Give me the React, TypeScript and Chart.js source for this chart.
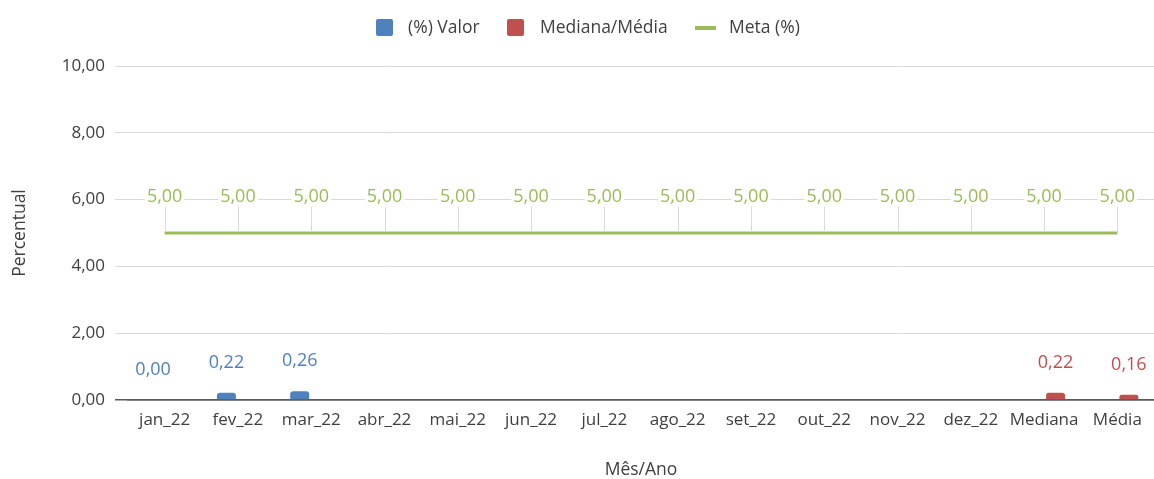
import React, { useEffect, useRef } from "react";
import { Chart, registerables } from "chart.js";

Chart.register(...registerables);

const categories = ["jan_22", "fev_22", "mar_22", "abr_22", "mai_22", "jun_22", "jul_22", "ago_22", "set_22", "out_22", "nov_22", "dez_22", "Mediana", "Média"];
const valorSeries: (number | null)[] = [0, 0.22, 0.26, null, null, null, null, null, null, null, null, null, null, null];
const medianaMediaSeries: (number | null)[] = [null, null, null, null, null, null, null, null, null, null, null, null, 0.22, 0.16];
const metaSeries: number[] = [5, 5, 5, 5, 5, 5, 5, 5, 5, 5, 5, 5, 5, 5];
const yTicks = { min: 0, max: 10, step: 2 };
const legendLabels = ["(%) Valor", "Mediana/Média", "Meta (%)"];
const axisTitles = { x: "Mês/Ano", y: "Percentual" };

const BLUE = "#4F81BD";
const RED = "#C0504D";
const GREEN = "#9BBB59";
const FONT = "'Open Sans', 'Noto Sans', sans-serif";

const fmt = (v: number) => v.toFixed(2).replace(".", ",");

function roundRect(ctx: CanvasRenderingContext2D, x: number, y: number, w: number, h: number, r: number) {
  ctx.beginPath();
  ctx.moveTo(x + r, y);
  ctx.lineTo(x + w - r, y);
  ctx.quadraticCurveTo(x + w, y, x + w, y + r);
  ctx.lineTo(x + w, y + h - r);
  ctx.quadraticCurveTo(x + w, y + h, x + w - r, y + h);
  ctx.lineTo(x + r, y + h);
  ctx.quadraticCurveTo(x, y + h, x, y + h - r);
  ctx.lineTo(x, y + r);
  ctx.quadraticCurveTo(x, y, x + r, y);
  ctx.closePath();
  ctx.fill();
}

const labelsPlugin = {
  id: "customLabels",
  afterDatasetsDraw(chart: any) {
    const ctx = chart.ctx;
    const yScale = chart.scales.y;
    ctx.save();
    ctx.font = `18px ${FONT}`;
    ctx.textAlign = "center";
    ctx.textBaseline = "middle";
    chart.data.datasets.forEach((ds: any, di: number) => {
      const meta = chart.getDatasetMeta(di);
      meta.data.forEach((el: any, i: number) => {
        const v = ds.data[i];
        if (v === null || v === undefined) return;
        const txt = fmt(v);
        if (ds.type === "line") {
          const ly = yScale.getPixelForValue(6) - 3;
          const w = ctx.measureText(txt).width;
          ctx.strokeStyle = "#D9D9D9";
          ctx.lineWidth = 1;
          ctx.beginPath();
          ctx.moveTo(Math.round(el.x) + 0.5, ly + 10);
          ctx.lineTo(Math.round(el.x) + 0.5, el.y - 1);
          ctx.stroke();
          ctx.fillStyle = "#FFFFFF";
          ctx.fillRect(el.x - w / 2 - 2, ly - 10, w + 4, 20);
          ctx.fillStyle = GREEN;
          ctx.fillText(txt, el.x, ly);
        } else {
          ctx.fillStyle = ds.backgroundColor;
          ctx.fillText(txt, el.x, el.y - 30);
        }
      });
    });
    ctx.restore();
  },
  afterDraw(chart: any) {
    const ctx = chart.ctx;
    ctx.save();
    ctx.font = `17.5px ${FONT}`;
    ctx.textBaseline = "middle";
    ctx.textAlign = "left";
    const cy = 28;
    ctx.fillStyle = BLUE;
    roundRect(ctx, 376, cy - 9, 17, 17, 2);
    ctx.fillStyle = "#404040";
    ctx.fillText(legendLabels[0], 408, cy);
    ctx.fillStyle = RED;
    roundRect(ctx, 507, cy - 9, 17, 17, 2);
    ctx.fillStyle = "#404040";
    ctx.fillText(legendLabels[1], 540, cy);
    ctx.fillStyle = GREEN;
    ctx.fillRect(695, cy - 2, 21, 4);
    ctx.fillStyle = "#404040";
    ctx.fillText(legendLabels[2], 729, cy);
    ctx.restore();
  },
};

export default function App() {
  const ref = useRef<HTMLCanvasElement | null>(null);
  useEffect(() => {
    if (!ref.current) return;
    const chart = new Chart(ref.current, {
      type: "bar",
      data: {
        labels: categories,
        datasets: [
          {
            type: "bar",
            label: legendLabels[0],
            data: valorSeries,
            backgroundColor: BLUE,
            borderRadius: { topLeft: 3, topRight: 3, bottomLeft: 0, bottomRight: 0 },
            borderSkipped: false,
            categoryPercentage: 0.628,
            barPercentage: 0.826,
            order: 2,
          } as any,
          {
            type: "bar",
            label: legendLabels[1],
            data: medianaMediaSeries,
            backgroundColor: RED,
            borderRadius: { topLeft: 3, topRight: 3, bottomLeft: 0, bottomRight: 0 },
            borderSkipped: false,
            categoryPercentage: 0.628,
            barPercentage: 0.826,
            order: 2,
          } as any,
          {
            type: "line",
            label: legendLabels[2],
            data: metaSeries,
            borderColor: GREEN,
            backgroundColor: GREEN,
            borderWidth: 3,
            pointRadius: 0,
            tension: 0,
            order: 1,
          } as any,
        ],
      },
      options: {
        responsive: false,
        animation: false,
        layout: { padding: { left: 8, right: 0, top: 66, bottom: 0 } },
        plugins: {
          legend: { display: false },
          tooltip: { enabled: false },
        },
        scales: {
          x: {
            type: "category",
            offset: true,
            grid: { display: false, drawTicks: false },
            border: { display: true, color: "#595959", width: 1.5 },
            ticks: { color: "#404040", font: { family: FONT, size: 17 }, padding: 10, maxRotation: 0, autoSkip: false },
            title: { display: true, text: axisTitles.x, color: "#404040", font: { family: FONT, size: 17.5, lineHeight: 1 }, padding: { top: 0, bottom: 0 } },
            afterFit: (s: any) => { s.height = 79; },
          },
          y: {
            min: yTicks.min,
            max: yTicks.max,
            grid: {
              color: (c: any) => (c.tick && c.tick.value === 0 ? "#595959" : "#D9D9D9"),
              tickColor: (c: any) => (c.tick && c.tick.value === 0 ? "#595959" : "#D9D9D9"),
              lineWidth: (c: any) => (c.tick && c.tick.value === 0 ? 1.5 : 1),
              drawTicks: true,
              tickLength: 13,
            },
            border: { display: false },
            ticks: {
              stepSize: yTicks.step,
              color: "#404040",
              font: { family: FONT, size: 17 },
              padding: 10,
              callback: (v: any) => fmt(Number(v)),
            },
            title: { display: true, text: axisTitles.y, color: "#404040", font: { family: FONT, size: 17.5, lineHeight: 1 }, padding: { top: 3, bottom: 0 } },
            afterFit: (s: any) => { s.width = 120; },
          },
        },
      } as any,
      plugins: [labelsPlugin],
    });
    return () => chart.destroy();
  }, []);
  return (
    <div style={{ position: "absolute", left: 0, top: 0, width: 1154, height: 479, background: "#fff" }}>
      <canvas ref={ref} width={1154} height={479} style={{ display: "block" }} />
    </div>
  );
}
